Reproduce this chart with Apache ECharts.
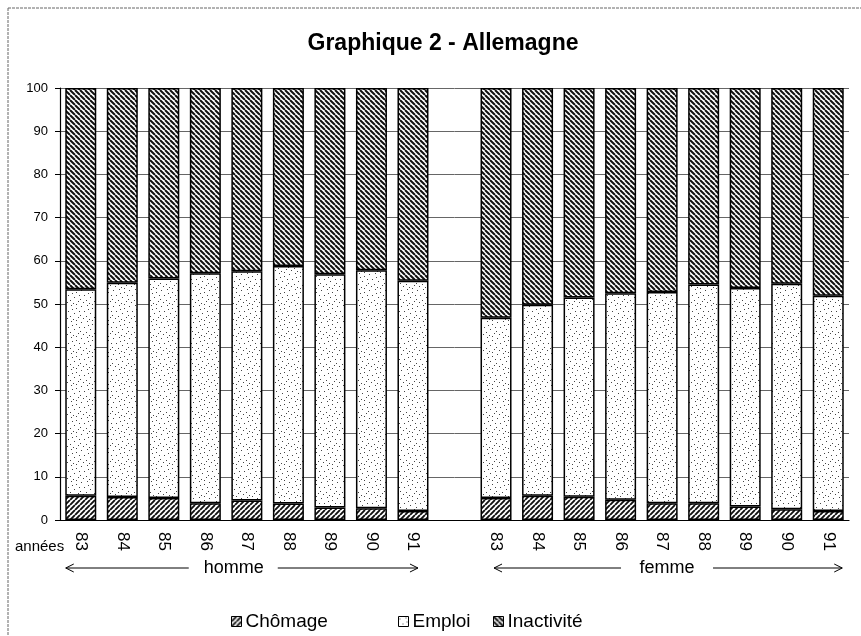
<!DOCTYPE html>
<html><head><meta charset="utf-8">
<script src="https://cdn.jsdelivr.net/npm/echarts@6/dist/echarts.min.js"></script>
<style>html,body{margin:0;padding:0;background:#fff}#c{width:861px;height:636px}</style>
</head><body><div id="c"></div>
<script>
// ---- data ----
const years = ['83','84','85','86','87','88','89','90','91'];
const groupLabels = ['homme','femme'];
const seriesNames = ['Chômage','Emploi','Inactivité'];
const hommeChomage    = [5.6, 5.3, 5.1, 3.9, 4.5, 3.8, 2.9, 2.7, 2.1];
const hommeEmploi     = [47.8, 49.6, 50.8, 53.2, 53.1, 55.0, 54.0, 55.1, 53.3];
const hommeInactivite = [46.6, 45.1, 44.1, 42.9, 42.4, 41.2, 43.1, 42.2, 44.6];
const femmeChomage    = [5.1, 5.6, 5.4, 4.7, 3.9, 3.9, 3.1, 2.5, 2.1];
const femmeEmploi     = [41.7, 44.2, 46.1, 47.8, 48.9, 50.6, 50.6, 52.2, 49.8];
const femmeInactivite = [53.2, 50.2, 48.5, 47.5, 47.2, 45.5, 46.3, 45.3, 48.1];
const yMin = 0, yMax = 100, yStep = 10;
const titleText = 'Graphique 2 - Allemagne';
const xAxisName = 'années';

// ---- categories (one empty slot between the groups) ----
const categories = years.map(y => 'h' + y).concat(['gap'], years.map(y => 'f' + y));
const join = (a, b) => a.concat([null], b);
const dataSets = [join(hommeChomage, femmeChomage), join(hommeEmploi, femmeEmploi), join(hommeInactivite, femmeInactivite)];

// ---- textures ----
function hatch(size, lw, dir, col) {
  const c = document.createElement('canvas'); c.width = c.height = size;
  const g = c.getContext('2d');
  g.fillStyle = '#fff'; g.fillRect(0, 0, size, size);
  g.strokeStyle = col; g.lineWidth = lw;
  g.beginPath();
  for (let k = -1; k <= 1; k++) {
    if (dir === '/') { g.moveTo(k * size, size); g.lineTo(k * size + size, 0); }
    else { g.moveTo(k * size, 0); g.lineTo(k * size + size, size); }
  }
  g.stroke();
  return c;
}
function dots() {
  const s = 16; const c = document.createElement('canvas'); c.width = c.height = s;
  const g = c.getContext('2d');
  g.fillStyle = '#fff'; g.fillRect(0, 0, s, s);
  g.fillStyle = '#444';
  [[1,2],[7,1],[12,4],[4,7],[10,9],[14,13],[6,12],[0,11],[9,15],[15,7],[3,14],[12,0],[8,5]].forEach(p => g.fillRect(p[0], p[1], 1, 1));
  return c;
}
const fills = [
  { image: hatch(5, 1.9, '/', '#111'), repeat: 'repeat' },
  { image: dots(), repeat: 'repeat' },
  { image: hatch(5, 2.0, '\\', '#111'), repeat: 'repeat' }
];

const FONT = "'Liberation Sans', Arial, Helvetica, sans-serif";
const chart = echarts.init(document.getElementById('c'), null, { renderer: 'canvas' });

const series = seriesNames.map((n, i) => ({
  name: n, type: 'bar', stack: 'total', barWidth: 31,
  data: dataSets[i],
  itemStyle: { color: fills[i], borderColor: '#000', borderWidth: 1.5 },
  emphasis: { disabled: true },
  animation: false
}));

const legendLefts = [226, 393, 488];
const legends = seriesNames.map((n, i) => ({
  data: [n], left: legendLefts[i], top: 607, itemWidth: 10, itemHeight: 10, itemGap: 5,
  icon: 'rect', selectedMode: false,
  itemStyle: { borderColor: '#000', borderWidth: 1 },
  textStyle: { fontFamily: FONT, fontSize: 19, color: '#000', padding: [0, 0, 0, -1] }
}));

chart.setOption({
  animation: false,
  backgroundColor: '#fff',
  grid: { left: 60, right: 12, top: 88, bottom: 116 },
  legend: legends,
  xAxis: {
    type: 'category', data: categories,
    axisLine: { lineStyle: { color: '#000', width: 1.2 } },
    axisTick: { show: false },
    axisLabel: {
      interval: 0, rotate: -90, margin: 12, fontFamily: FONT, fontSize: 17, color: '#000',
      formatter: v => v === 'gap' ? '' : v.slice(1)
    }
  },
  yAxis: {
    type: 'value', min: yMin, max: yMax, interval: yStep,
    axisLine: { show: true, lineStyle: { color: '#000', width: 1.2 } },
    axisTick: { show: true, inside: false, length: 5, lineStyle: { color: '#000' } },
    axisLabel: { margin: 12, fontFamily: FONT, fontSize: 13, color: '#000' },
    splitLine: { show: true, lineStyle: { color: '#666', width: 1 } }
  },
  series: series,
  graphic: []
});

// annotations positioned from the category axis
const px = idx => chart.convertToPixel({ xAxisIndex: 0 }, categories[idx]);
const baseY = chart.convertToPixel({ yAxisIndex: 0 }, 0);
const arrowY = baseY + 48;
const g = [];
g.push({ type: 'text', x: 443, y: 44, style: { text: titleText, font: "bold 23px " + FONT, fill: '#000', textAlign: 'center', textVerticalAlign: 'middle' } });
g.push({ type: 'text', x: 15, y: baseY + 27, style: { text: xAxisName, font: "15px " + FONT, fill: '#000', textAlign: 'left', textVerticalAlign: 'middle' } });
function arrow(x1, x2, gapL, gapR, label, cx) {
  const st = { stroke: '#000', lineWidth: 1 };
  g.push({ type: 'line', shape: { x1: x1, y1: arrowY, x2: gapL, y2: arrowY }, style: st });
  g.push({ type: 'line', shape: { x1: gapR, y1: arrowY, x2: x2, y2: arrowY }, style: st });
  g.push({ type: 'polyline', shape: { points: [[x1 + 8, arrowY - 4], [x1, arrowY], [x1 + 8, arrowY + 4]] }, style: { stroke: '#000', fill: null, lineWidth: 1 } });
  g.push({ type: 'polyline', shape: { points: [[x2 - 8, arrowY - 4], [x2, arrowY], [x2 - 8, arrowY + 4]] }, style: { stroke: '#000', fill: null, lineWidth: 1 } });
  g.push({ type: 'text', x: cx, y: arrowY, style: { text: label, font: "18px " + FONT, fill: '#000', textAlign: 'center', textVerticalAlign: 'middle' } });
}
const h0 = px(0), h8 = px(8), f0 = px(10), f8 = px(18);
arrow(h0 - 15, h8 + 5, h0 + 108, h0 + 197, groupLabels[0], h0 + 153);
arrow(f0 - 2, f8 + 14, f0 + 125, f0 + 217, groupLabels[1], f0 + 171);
// scanned page frame
g.push({ type: 'line', shape: { x1: 8, y1: 8, x2: 861, y2: 8 }, style: { stroke: '#666', lineWidth: 1, lineDash: [3, 1] } });
g.push({ type: 'line', shape: { x1: 8, y1: 8, x2: 8, y2: 636 }, style: { stroke: '#666', lineWidth: 1, lineDash: [3, 1] } });
chart.setOption({ graphic: g });
</script>
</body></html>
